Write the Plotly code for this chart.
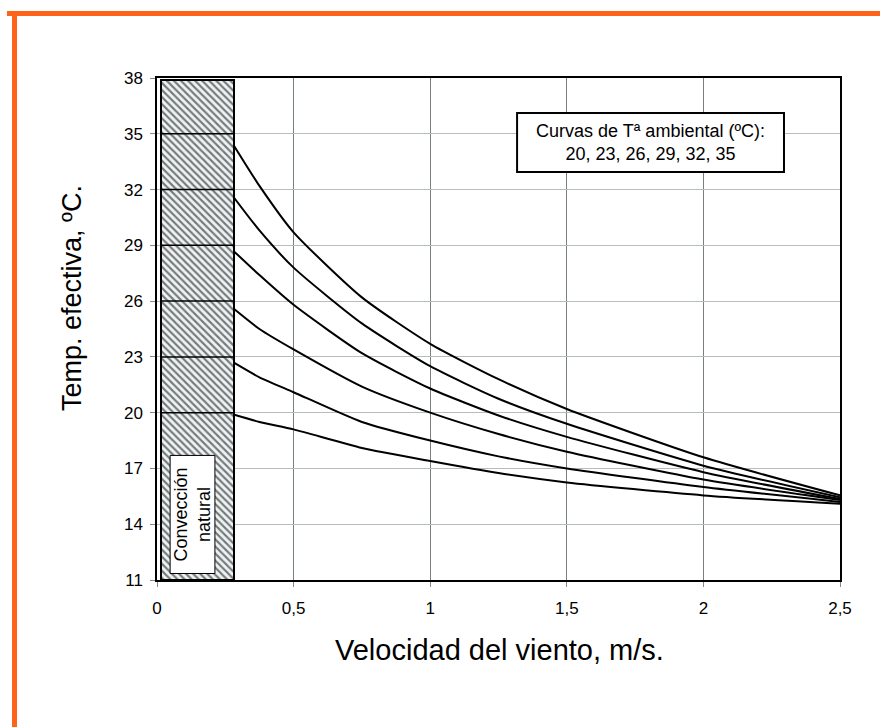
import plotly.graph_objects as go

# ---------------- data ----------------
wind_speed = [0.28, 0.375, 0.5, 0.75, 1.0, 1.25, 1.5, 2.0, 2.5]
ambient_temps = [20, 23, 26, 29, 32, 35]
t_eff_35 = [34.4, 32.2, 29.7, 26.2, 23.7, 21.8, 20.2, 17.6, 15.55]
t_eff_32 = [31.6, 29.8, 27.8, 24.8, 22.5, 20.75, 19.4, 17.15, 15.45]
t_eff_29 = [28.7, 27.4, 25.8, 23.2, 21.3, 19.85, 18.7, 16.8, 15.35]
t_eff_26 = [25.6, 24.5, 23.4, 21.4, 20.0, 18.85, 17.9, 16.4, 15.3]
t_eff_23 = [22.7, 21.9, 21.1, 19.5, 18.5, 17.65, 17.0, 16.0, 15.2]
t_eff_20 = [19.9, 19.5, 19.1, 18.1, 17.4, 16.75, 16.25, 15.55, 15.1]
curves = [t_eff_20, t_eff_23, t_eff_26, t_eff_29, t_eff_32, t_eff_35]

natural_conv_x = [0.015, 0.28]     # natural convection band
natural_conv_y = [11, 37.9]

x_tickvals = [0, 0.5, 1, 1.5, 2, 2.5]
x_ticktext = ["0", "0,5", "1", "1,5", "2", "2,5"]
y_tickvals = [11, 14, 17, 20, 23, 26, 29, 32, 35, 38]

FONT = "Liberation Sans, Arial, sans-serif"
ORANGE = "#FF6219"

fig = go.Figure()

# hatched natural convection band
fig.add_trace(go.Bar(
    x=[(natural_conv_x[0] + natural_conv_x[1]) / 2],
    y=[natural_conv_y[1] - natural_conv_y[0]],
    base=[natural_conv_y[0]],
    width=[natural_conv_x[1] - natural_conv_x[0]],
    marker=dict(color="#eef3f3",
                line=dict(color="black", width=2),
                pattern=dict(shape="\\", fgcolor="#000000", bgcolor="#eef3f3",
                             size=5, solidity=0.42)),
    showlegend=False, hoverinfo="skip"))

# horizontal segments inside the band
for t in ambient_temps:
    fig.add_trace(go.Scatter(
        x=natural_conv_x, y=[t, t], mode="lines",
        line=dict(color="black", width=1.5), showlegend=False, hoverinfo="skip"))

# curves
for t, c in zip(ambient_temps, curves):
    fig.add_trace(go.Scatter(
        x=wind_speed, y=c, mode="lines", name=str(t),
        line=dict(color="black", width=2, shape="spline", smoothing=0.6),
        showlegend=False))

shapes = [
    # "Convección natural" box
    dict(type="rect", xref="x", yref="y", x0=0.048, x1=0.212, y0=11.35, y1=17.7,
         fillcolor="white", line=dict(color="black", width=1), layer="above"),
    # legend box
    dict(type="rect", xref="x", yref="y", x0=1.318, x1=2.295, y0=32.95, y1=36.12,
         fillcolor="white", line=dict(color="black", width=2), layer="above"),
    # orange frame (top and left)
    dict(type="rect", xref="paper", yref="paper",
         x0=(7 - 157) / 683, x1=(880 - 157) / 683,
         y0=(580 - 16) / 502, y1=(580 - 11) / 502,
         fillcolor=ORANGE, line=dict(width=0), layer="above"),
    dict(type="rect", xref="paper", yref="paper",
         x0=(12 - 157) / 683, x1=(17 - 157) / 683,
         y0=(580 - 727) / 502, y1=(580 - 11) / 502,
         fillcolor=ORANGE, line=dict(width=0), layer="above"),
]

annotations = [
    dict(text="Convección<br>natural", x=0.13, y=14.5, xref="x", yref="y",
         xanchor="center", yanchor="middle",
         textangle=-90, showarrow=False,
         font=dict(family=FONT, size=18, color="black")),
    dict(text="Curvas de Tª ambiental (ºC):<br>20, 23, 26, 29, 32, 35",
         x=(1.318 + 2.295) / 2, y=(32.95 + 36.12) / 2, xref="x", yref="y",
         xanchor="center", yanchor="middle",
         showarrow=False, align="center",
         font=dict(family=FONT, size=18, color="black")),
    dict(text="Temp. efectiva, ºC.", xref="paper", yref="paper",
         x=(72 - 157) / 683, y=(580 - 298) / 502, xanchor="center", yanchor="middle",
         textangle=-90, showarrow=False,
         font=dict(family=FONT, size=27, color="black")),
    dict(text="Velocidad del viento, m/s.", xref="paper", yref="paper",
         x=(499 - 157) / 683, y=(580 - 650) / 502, xanchor="center", yanchor="middle",
         showarrow=False,
         font=dict(family=FONT, size=29, color="black")),
]

fig.update_layout(
    width=880, height=727,
    margin=dict(l=157, r=40, t=78, b=147),
    paper_bgcolor="white", plot_bgcolor="white",
    shapes=shapes, annotations=annotations,
    showlegend=False, bargap=0,
    font=dict(family=FONT, size=17, color="black"),
)
fig.update_xaxes(
    range=[0, 2.5], tickvals=x_tickvals, ticktext=x_ticktext,
    showgrid=True, gridcolor="#76807f", gridwidth=1,
    showline=True, linecolor="black", linewidth=2, mirror=True,
    ticks="outside", ticklen=5, tickcolor="#888888",
    ticklabelstandoff=7, zeroline=False,
    tickfont=dict(family=FONT, size=17, color="black"),
)
fig.update_yaxes(
    range=[11, 38], tickvals=y_tickvals,
    showgrid=True, gridcolor="#b5bdbd", gridwidth=1,
    showline=True, linecolor="black", linewidth=1.5, mirror=True,
    ticks="outside", ticklen=5, tickcolor="#888888",
    ticklabelstandoff=4, zeroline=False,
    tickfont=dict(family=FONT, size=17, color="black"),
)

fig.write_html("out.html")
